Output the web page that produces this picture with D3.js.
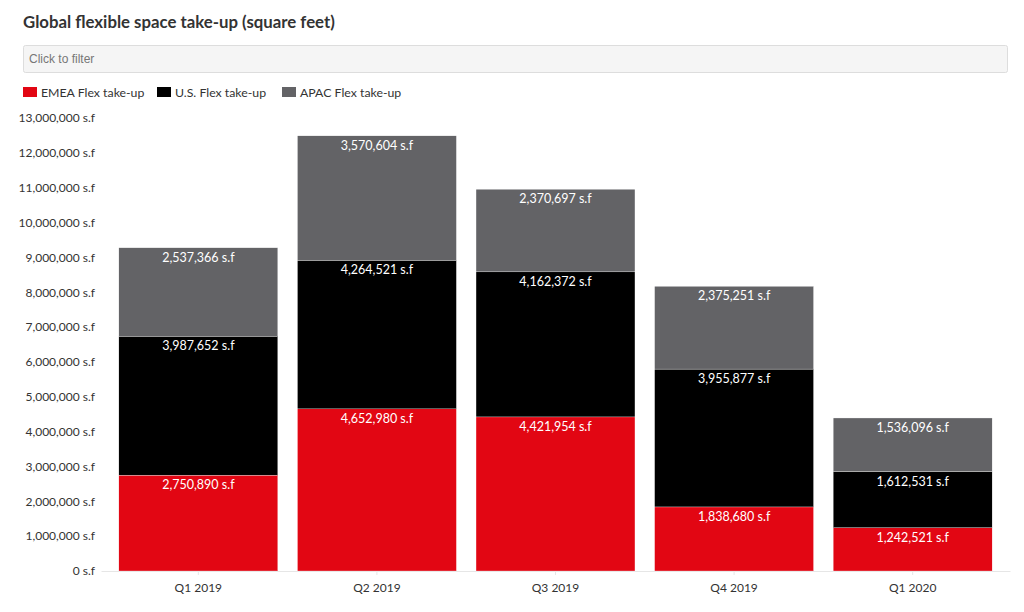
<!DOCTYPE html>
<html><head><meta charset="utf-8">
<script src="https://cdn.jsdelivr.net/npm/d3@7"></script>
<style>
body{margin:0;background:#fff;font-family:"Source Sans Pro",Lato,"Noto Sans",sans-serif;}
svg{display:block;}
</style></head>
<body>
<svg id="chart" width="1024" height="612"></svg>
<script>
const categories = ["Q1 2019","Q2 2019","Q3 2019","Q4 2019","Q1 2020"];
const emea = [2750890, 4652980, 4421954, 1838680, 1242521];
const us   = [3987652, 4264521, 4162372, 3955877, 1612531];
const apac = [2537366, 3570604, 2370697, 2375251, 1536096];
const seriesNames = ["EMEA Flex take-up","U.S. Flex take-up","APAC Flex take-up"];
const seriesColors = ["#e20613","#000000","#636366"];
const yTicks = [0,1000000,2000000,3000000,4000000,5000000,6000000,7000000,8000000,9000000,10000000,11000000,12000000,13000000];

const svg = d3.select("#chart");
const font = "Lato, 'Noto Sans', sans-serif";

svg.append("text").attr("x",23).attr("y",28).text("Global flexible space take-up (square feet)")
  .attr("font-family",font).attr("font-weight","bold").attr("font-size",16.8).attr("fill","#333");

svg.append("rect").attr("x",23.5).attr("y",45.5).attr("width",984).attr("height",27).attr("rx",2)
  .attr("fill","#f5f5f5").attr("stroke","#dddddd");
svg.append("text").attr("x",29).attr("y",63).text("Click to filter")
  .attr("font-family","'Liberation Sans', Arial, sans-serif").attr("font-size",12).attr("fill","#777");

const legendX = [23,157,282];
seriesNames.forEach((n,i)=>{
  svg.append("rect").attr("x",legendX[i]).attr("y",87).attr("width",14).attr("height",10).attr("fill",seriesColors[i]);
  svg.append("text").attr("x",legendX[i]+18).attr("y",97).text(n)
    .attr("font-family",font).attr("font-size",12.3).attr("fill","#333");
});

const data = categories.map((c,i)=>({cat:c, emea:emea[i], us:us[i], apac:apac[i]}));
const keys = ["emea","us","apac"];
const stack = d3.stack().keys(keys)(data);

const x = d3.scaleBand().domain(categories).range([101,1010]).paddingInner(0.11).paddingOuter(0.1);
const y = d3.scaleLinear().domain([0,13000000]).range([571,118]);

const fmt = d3.format(",");

// y axis
const yAxis = svg.append("g").attr("transform","translate(101,0)")
  .call(d3.axisLeft(y).tickValues(yTicks).tickSize(0).tickPadding(6).tickFormat(d=>fmt(d)+" s.f"));
yAxis.select(".domain").remove();
yAxis.selectAll("text").attr("font-family",font).attr("font-size",12).attr("fill","#333");

// x axis
const xAxis = svg.append("g").attr("transform","translate(0,571)")
  .call(d3.axisBottom(x).tickSize(4).tickSizeOuter(0).tickPadding(8));
xAxis.select(".domain").attr("stroke","#e6e6e6");
xAxis.selectAll(".tick line").attr("stroke","#e6e6e6");
xAxis.selectAll("text").attr("font-family",font).attr("font-size",12).attr("fill","#333");

const g = svg.append("g");
stack.forEach((s,si)=>{
  g.selectAll(null).data(s).enter().append("rect")
    .attr("x",d=>x(d.data.cat)).attr("width",x.bandwidth())
    .attr("y",d=>y(d[1])).attr("height",d=>y(d[0])-y(d[1]))
    .attr("fill",seriesColors[si]).attr("stroke","#fff").attr("stroke-width",0.3);
  g.selectAll(null).data(s).enter().append("text")
    .attr("x",d=>x(d.data.cat)+x.bandwidth()/2).attr("y",d=>y(d[1])+14)
    .attr("text-anchor","middle").text(d=>fmt(d[1]-d[0])+" s.f")
    .attr("font-family",font).attr("font-size",12.5).attr("fill","#fff");
});
</script>
</body></html>
